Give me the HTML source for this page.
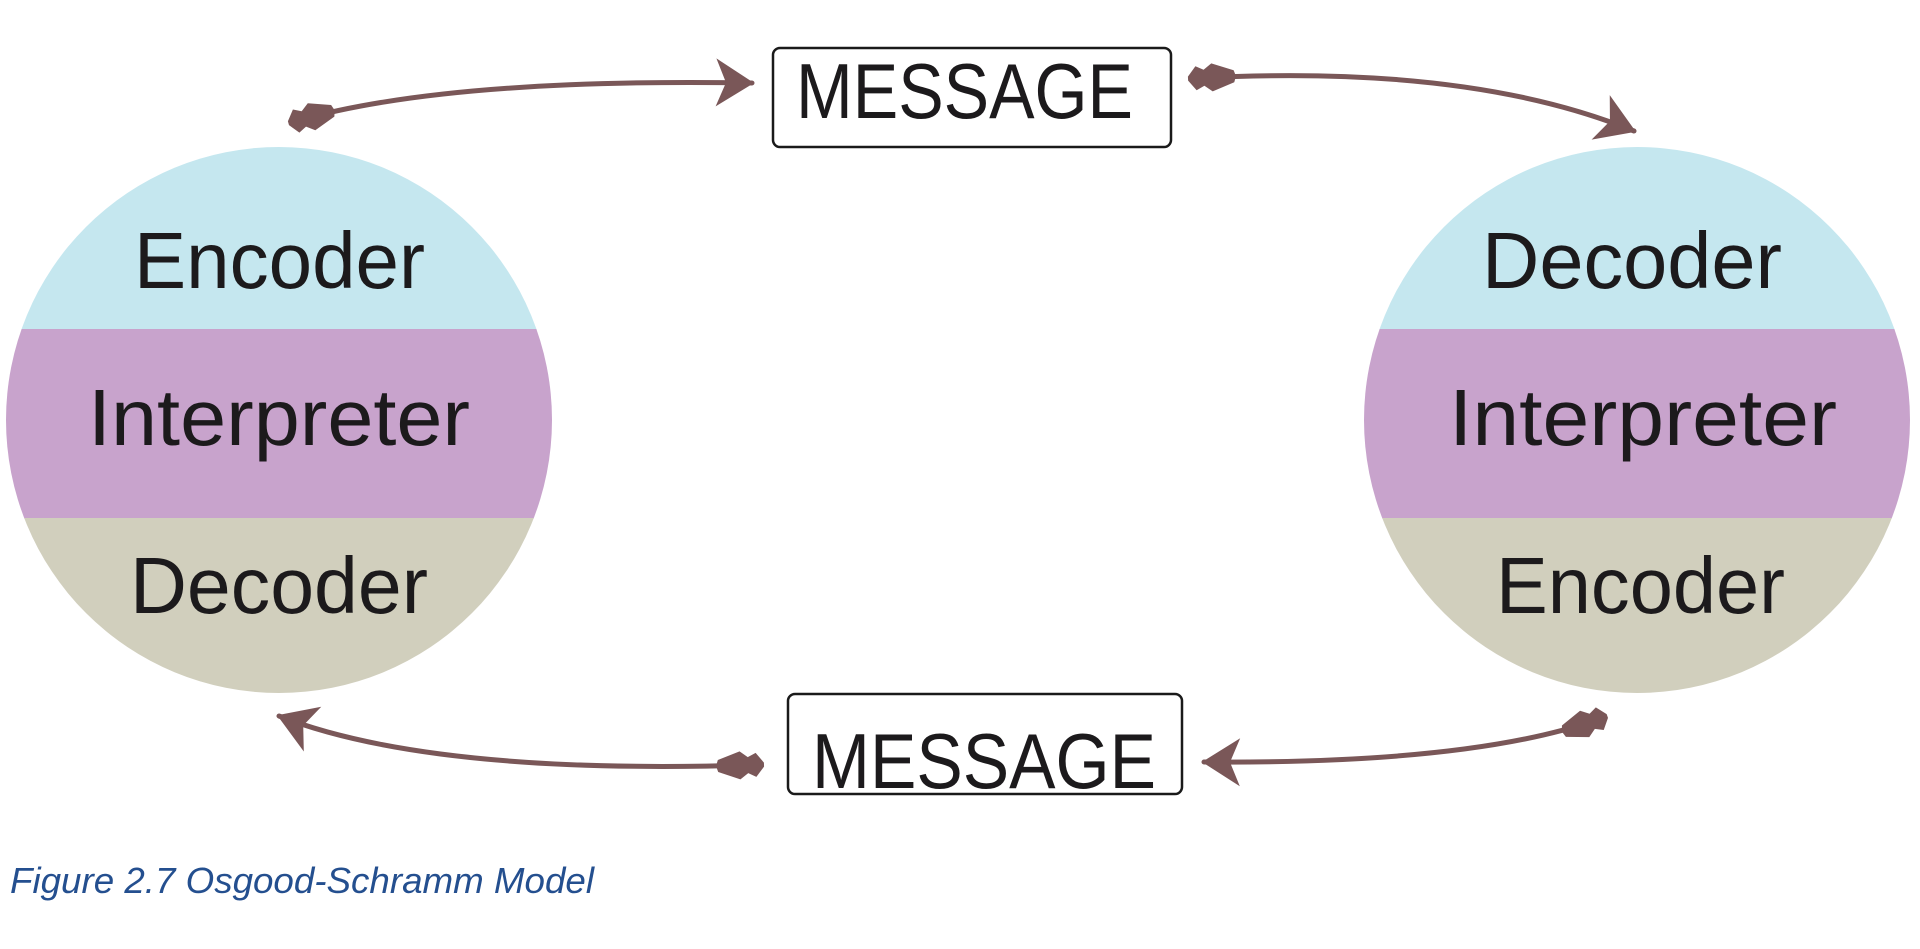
<!DOCTYPE html>
<html><head><meta charset="utf-8"><style>
html,body{margin:0;padding:0;background:#fff;}
svg{display:block;}
</style></head><body>
<svg width="1920" height="949" viewBox="0 0 1920 949" xmlns="http://www.w3.org/2000/svg">
<defs>
<clipPath id="cl"><circle cx="279" cy="420" r="273"/></clipPath>
<clipPath id="cr"><circle cx="1637" cy="420" r="273"/></clipPath>
<marker id="head" markerUnits="userSpaceOnUse" markerWidth="80" markerHeight="80" refX="0" refY="0" orient="auto" overflow="visible">
<path d="M2,0 L-36,-24 L-26,0 L-36,24 Z" fill="#7a5758"/>
</marker>
<marker id="tail" markerUnits="userSpaceOnUse" markerWidth="80" markerHeight="80" refX="0" refY="0" orient="auto" overflow="visible">
<path d="M-12,-2 L-4,-12 L4,-8 L12,-14 L34,-6 L36,0 L34,6 L12,14 L4,8 L-4,12 L-12,2 Z" fill="#7a5758"/>
</marker>
</defs>

<g clip-path="url(#cl)">
<rect x="0" y="140" width="560" height="190" fill="#c5e7ef"/>
<rect x="0" y="329" width="560" height="190" fill="#c8a3cc"/>
<rect x="0" y="518" width="560" height="190" fill="#d1cfbd"/>
</g>
<g clip-path="url(#cr)">
<rect x="1350" y="140" width="570" height="190" fill="#c5e7ef"/>
<rect x="1350" y="329" width="570" height="190" fill="#c8a3cc"/>
<rect x="1350" y="518" width="570" height="190" fill="#d1cfbd"/>
</g>

<g font-family="Liberation Sans, sans-serif" font-size="80" fill="#1c1a1c">
<text x="134" y="288" textLength="291" lengthAdjust="spacingAndGlyphs">Encoder</text>
<text x="88" y="445" textLength="382" lengthAdjust="spacingAndGlyphs">Interpreter</text>
<text x="130" y="613" textLength="298" lengthAdjust="spacingAndGlyphs">Decoder</text>
<text x="1482" y="288" textLength="300" lengthAdjust="spacingAndGlyphs">Decoder</text>
<text x="1449" y="445" textLength="388" lengthAdjust="spacingAndGlyphs">Interpreter</text>
<text x="1496" y="613" textLength="289" lengthAdjust="spacingAndGlyphs">Encoder</text>
</g>

<rect x="773" y="48" width="398" height="99" rx="7" fill="#fff" stroke="#1a1a1a" stroke-width="2.5"/>
<rect x="788" y="694" width="394" height="100" rx="7" fill="#fff" stroke="#1a1a1a" stroke-width="2.5"/>
<g font-family="Liberation Sans, sans-serif" font-size="78" fill="#1c1a1c">
<text x="796" y="118" textLength="337" lengthAdjust="spacingAndGlyphs">MESSAGE</text>
<text x="812" y="788" textLength="344" lengthAdjust="spacingAndGlyphs">MESSAGE</text>
</g>

<g fill="none" stroke="#7a5758" stroke-width="5" stroke-linecap="round">
<path d="M300,120 Q450,78 752,83" marker-start="url(#tail)" marker-end="url(#head)"/>
<path d="M1200,78 Q1470,64 1634,131" marker-start="url(#tail)" marker-end="url(#head)"/>
<path d="M1596,720 Q1470,764 1204,762" marker-start="url(#tail)" marker-end="url(#head)"/>
<path d="M752,765 Q430,775 279,716" marker-start="url(#tail)" marker-end="url(#head)"/>
</g>

<text x="10" y="893" font-family="Liberation Sans, sans-serif" font-style="italic" font-size="36" fill="#244f8f" textLength="584" lengthAdjust="spacingAndGlyphs">Figure 2.7 Osgood-Schramm Model</text>
</svg>
</body></html>
